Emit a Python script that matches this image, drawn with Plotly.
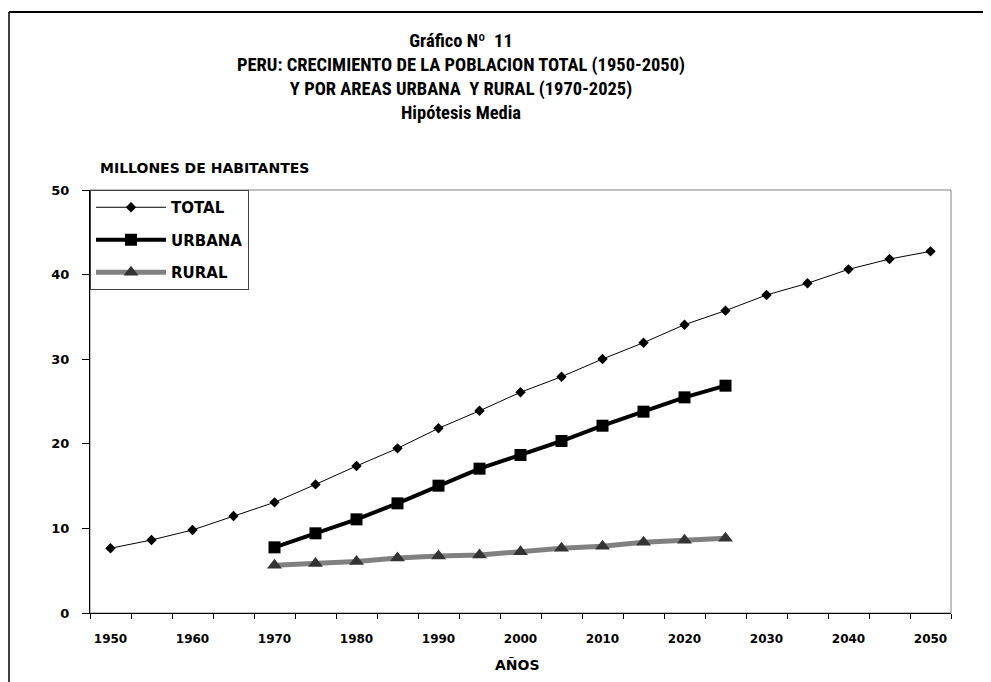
import plotly.graph_objects as go

years_total = [1950, 1955, 1960, 1965, 1970, 1975, 1980, 1985, 1990, 1995, 2000,
               2005, 2010, 2015, 2020, 2025, 2030, 2035, 2040, 2045, 2050]
total = [7.65, 8.63, 9.81, 11.47, 13.08, 15.2, 17.38, 19.46, 21.83, 23.9, 26.09,
         27.93, 30.02, 31.95, 34.08, 35.74, 37.59, 38.97, 40.62, 41.84, 42.75]

years_area = [1970, 1975, 1980, 1985, 1990, 1995, 2000, 2005, 2010, 2015, 2020, 2025]
urbana = [7.76, 9.42, 11.07, 12.96, 15.05, 17.06, 18.68, 20.33, 22.14, 23.8, 25.49, 26.87]
rural = [5.65, 5.85, 6.1, 6.5, 6.75, 6.85, 7.25, 7.65, 7.9, 8.35, 8.6, 8.85]

x_labels = [1950, 1960, 1970, 1980, 1990, 2000, 2010, 2020, 2030, 2040, 2050]
y_ticks = [0, 10, 20, 30, 40, 50]

title_lines = ["Gráfico Nº  11",
               "PERU: CRECIMIENTO DE LA POBLACION TOTAL (1950-2050)",
               "Y POR AREAS URBANA  Y RURAL (1970-2025)",
               "Hipótesis Media"]

FONT = "DejaVu Sans"
NARROW = "Liberation Sans Narrow, Arial Narrow, Roboto Condensed, Liberation Sans, sans-serif"

fig = go.Figure()
fig.add_trace(go.Scatter(
    x=years_total, y=total, name="TOTAL", mode="lines+markers", legendgroup="a",
    line=dict(color="black", width=1),
    marker=dict(symbol="diamond", size=8, color="black")))
fig.add_trace(go.Scatter(
    x=years_area, y=urbana, name="URBANA", mode="lines+markers", legendgroup="b",
    line=dict(color="black", width=4),
    marker=dict(symbol="square", size=12, color="black")))
fig.add_trace(go.Scatter(
    x=years_area, y=rural, name="RURAL", mode="lines+markers", legendgroup="c",
    line=dict(color="#808080", width=5),
    marker=dict(symbol="triangle-up", size=13, color="#333333")))

# page layout (window coordinates); the page body has an 8px margin
OFF = 8
PW, PH = 991, 682
L, R, T, B = 90, 951, 190, 613
W, H = PW - OFF, PH - OFF


def px(x):
    return (x - L) / (R - L)


def py(y):
    return (B - y) / (B - T)


annotations = [
    dict(text="<br>".join(title_lines), xref="paper", yref="paper", x=px(461), y=py(77),
         xanchor="center", yanchor="middle", align="center", showarrow=False,
         font=dict(family=NARROW, size=18.5, color="black", weight="bold")),
    dict(text="MILLONES DE HABITANTES", xref="paper", yref="paper",
         x=px(98), y=py(168), xanchor="left", yanchor="middle", showarrow=False,
         font=dict(family=FONT, size=14, color="black", weight="bold")),
    dict(text="AÑOS", xref="paper", yref="paper",
         x=px(517), y=py(665), xanchor="center", yanchor="middle", showarrow=False,
         font=dict(family=FONT, size=14, color="black", weight="bold")),
]

shapes = [
    dict(type="rect", xref="paper", yref="paper", x0=0, x1=1, y0=0, y1=1,
         line=dict(color="#808080", width=1), layer="below"),
    dict(type="line", xref="paper", yref="paper", x0=px(9), x1=px(1000), y0=py(12), y1=py(12),
         line=dict(color="black", width=2)),
    dict(type="line", xref="paper", yref="paper", x0=px(9), x1=px(9), y0=py(12), y1=py(700),
         line=dict(color="black", width=1.5)),
]

fig.update_layout(
    width=W, height=H,
    margin=dict(l=L - OFF, r=W - (R - OFF), t=T - OFF, b=H - (B - OFF), pad=0),
    paper_bgcolor="white", plot_bgcolor="white",
    showlegend=True,
    legend=dict(x=0, y=1, xanchor="left", yanchor="top",
                bordercolor="#404040", borderwidth=1, bgcolor="white",
                font=dict(family=FONT, size=15, color="black", weight="bold"),
                tracegroupgap=10, itemwidth=70,
                traceorder="grouped"),
    annotations=annotations,
    shapes=shapes,
    xaxis=dict(range=[1947.5, 2052.5], tickmode="array", tickvals=x_labels,
               ticktext=[str(v) for v in x_labels], ticks="", showgrid=False, zeroline=False,
               showline=True, linecolor="black", linewidth=1,
               ticklabelstandoff=15,
               tickfont=dict(family=FONT, size=12, color="black", weight="bold"),
               minor=dict(tick0=1947.5, dtick=5, ticks="outside", ticklen=5,
                          tickcolor="black", tickwidth=1, showgrid=False)),
    yaxis=dict(range=[0, 50], tickmode="array", tickvals=y_ticks, ticks="outside",
               ticklen=7, tickcolor="black", showgrid=False, zeroline=False,
               showline=True, linecolor="black", linewidth=1,
               ticklabelstandoff=10,
               tickfont=dict(family=FONT, size=13, color="black", weight="bold")),
)

fig.write_html("out.html")
